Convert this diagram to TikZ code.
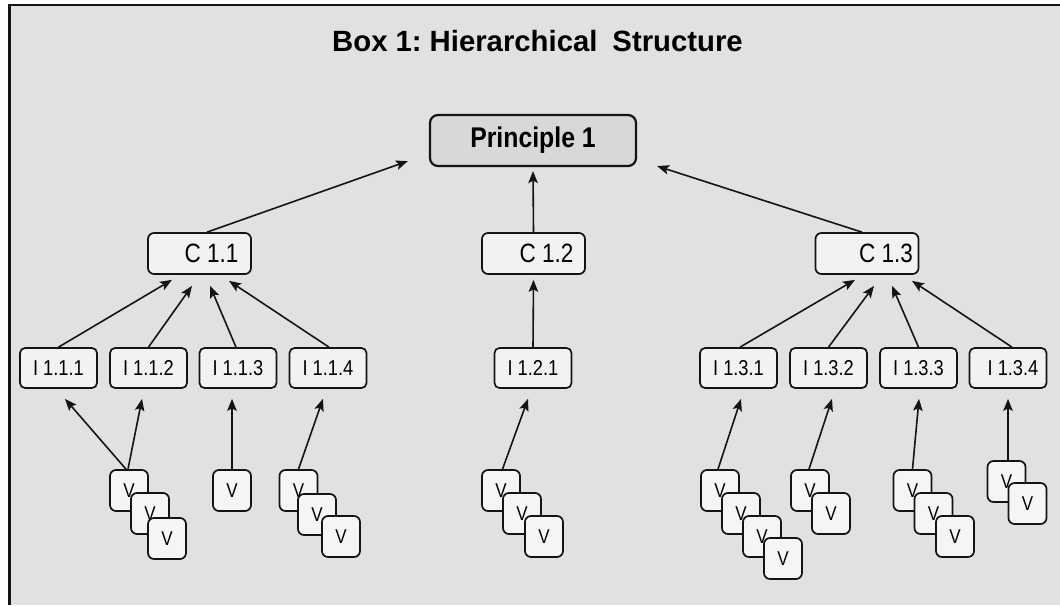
\documentclass[tikz,border=0pt]{standalone}
\usepackage{fontspec}
\setmainfont{Liberation Sans}
\newfontfamily\condfont[FakeStretch=0.85]{Liberation Sans}
\newfontfamily\pfont[FakeStretch=0.87]{Liberation Sans Bold}
\usetikzlibrary{arrows.meta}
\definecolor{panelgray}{RGB}{225,225,225}
\definecolor{boxfill}{RGB}{242,242,242}
\definecolor{vfill}{RGB}{245,245,245}
\definecolor{topfill}{RGB}{216,216,216}
\definecolor{ink}{RGB}{20,20,20}
\tikzset{
  basebox/.style={draw=ink, line width=1.7pt, inner sep=0pt, anchor=center},
  topbox/.style={basebox, fill=topfill, rounded corners=8pt, line width=2.2pt,
    minimum width=206pt, minimum height=51pt,
    font=\pfont\fontsize{28.5}{30}\selectfont},
  cbox/.style={basebox, fill=boxfill, rounded corners=6pt,
    minimum width=103pt, minimum height=41pt,
    font=\condfont\fontsize{26.5}{28}\selectfont},
  ibox/.style={basebox, fill=boxfill, rounded corners=5pt,
    minimum width=77pt, minimum height=40pt,
    font=\condfont\fontsize{21.5}{23}\selectfont},
  vbox/.style={basebox, fill=vfill, rounded corners=6pt,
    minimum width=38pt, minimum height=41pt,
    font=\condfont\fontsize{20}{22}\selectfont},
  arr/.style={draw=ink, line width=1.6pt, -{Stealth[length=12pt,width=9.5pt,inset=2.5pt]}}
}
\begin{document}
\begin{tikzpicture}[x=1pt,y=-1pt]
\useasboundingbox (0,0) rectangle (1060,605);
% panel
\fill[white] (0,0) rectangle (1060,605);
\fill[panelgray] (8,4) rectangle (1060,605);
\draw[ink, line width=3pt] (9.5,4) -- (9.5,605);
\draw[ink, line width=1.6pt] (8,5) -- (1060,5);

% title
\node[anchor=base, font=\bfseries\fontsize{29.3}{31}\selectfont] (title) at (537.5,51)
  {Box 1:\hspace{8pt}Hierarchical\hspace{15pt}Structure};

% principle
\node[topbox] (p) at (533,140.5) {Principle 1};

% criteria
\node[cbox] (c11) at (199.5,253.5) {\hspace{24pt}C 1.1};
\node[cbox] (c12) at (533.5,253.5) {\hspace{26pt}C 1.2};
\node[cbox] (c13) at (867,253.5) {\hspace{38pt}C 1.3};

% indicators
\node[ibox] (i111) at (58.5,368) {I 1.1.1};
\node[ibox] (i112) at (148.5,368) {I 1.1.2};
\node[ibox] (i113) at (238,368) {I 1.1.3};
\node[ibox] (i114) at (328,368) {I 1.1.4};
\node[ibox] (i121) at (533,368) {I 1.2.1};
\node[ibox] (i131) at (738.5,368) {I 1.3.1};
\node[ibox] (i132) at (828.5,368) {I 1.3.2};
\node[ibox] (i133) at (918.5,368) {I 1.3.3};
\node[ibox] (i134) at (1008,368) {\hspace{10pt}I 1.3.4};

% verifiers (stacked cards)
\node[vbox] (va1) at (129,490.5) {V};
\node[vbox] (va2) at (150,513.5) {V};
\node[vbox] (va3) at (167,538.5) {V};
\node[vbox] (vb1) at (232,490.5) {V};
\node[vbox] (vc1) at (298.5,490.5) {V};
\node[vbox] (vc2) at (317,514.5) {V};
\node[vbox] (vc3) at (341,536.5) {V};
\node[vbox] (vd1) at (501,490.5) {V};
\node[vbox] (vd2) at (522,513.5) {V};
\node[vbox] (vd3) at (544,536.5) {V};
\node[vbox] (ve1) at (720,490.5) {V};
\node[vbox] (ve2) at (741,513.5) {V};
\node[vbox] (ve3) at (762,536.5) {V};
\node[vbox] (ve4) at (783,558.5) {V};
\node[vbox] (vf1) at (810,490.5) {V};
\node[vbox] (vf2) at (831,513.5) {V};
\node[vbox] (vg1) at (912.5,490.5) {V};
\node[vbox] (vg2) at (933.5,513.5) {V};
\node[vbox] (vg3) at (955,536.5) {V};
\node[vbox] (vh1) at (1006.5,481.5) {V};
\node[vbox] (vh2) at (1027.5,503.5) {V};

% criteria to principle
\draw[arr] ([xshift=7.5pt]c11.north) -- ([xshift=-21pt,yshift=6pt]p.south west);
\draw[arr] (c12.north) -- ([yshift=-4pt]p.south);
\draw[arr] ([xshift=-5pt]c13.north) -- ([xshift=20pt,yshift=1pt]p.south east);

% indicators to criteria
\draw[arr] (i111.north) -- ([xshift=-27.5pt,yshift=-5pt]c11.south);
\draw[arr] (i112.north) -- ([xshift=-7.5pt,yshift=-11pt]c11.south);
\draw[arr] ([xshift=-2pt]i113.north) -- ([xshift=10.5pt,yshift=-11pt]c11.south);
\draw[arr] ([xshift=1pt]i114.north) -- ([xshift=29.5pt,yshift=-6pt]c11.south);
\draw[arr] (i121.north) -- ([yshift=-5pt]c12.south);
\draw[arr] ([xshift=1.5pt]i131.north) -- ([xshift=-12pt,yshift=-5pt]c13.south);
\draw[arr] (i132.north) -- ([xshift=7pt,yshift=-11pt]c13.south);
\draw[arr] (i133.north) -- ([xshift=25pt,yshift=-11pt]c13.south);
\draw[arr] ([xshift=4pt]i134.north) -- ([xshift=45pt,yshift=-6pt]c13.south);

% verifiers to indicators
\draw[arr] ([xshift=-3pt]va1.north) -- ([xshift=6.5pt,yshift=-10pt]i111.south);
\draw[arr] ([xshift=-1pt]va1.north) -- ([xshift=-6.5pt,yshift=-10pt]i112.south);
\draw[arr] (vb1.north) -- ([xshift=-6pt,yshift=-10pt]i113.south);
\draw[arr] (vc1.north) -- ([xshift=-5pt,yshift=-10pt]i114.south);
\draw[arr] ([xshift=1.5pt]vd1.north) -- ([xshift=-5pt,yshift=-10pt]i121.south);
\draw[arr] ([xshift=-2pt]ve1.north) -- ([xshift=2.5pt,yshift=-10pt]i131.south);
\draw[arr] ([xshift=-1pt]vf1.north) -- ([xshift=3.5pt,yshift=-10pt]i132.south);
\draw[arr] (vg1.north) -- ([xshift=0.5pt,yshift=-10pt]i133.south);
\draw[arr] ([xshift=1.5pt]vh1.north) -- ([yshift=-10pt]i134.south);
\end{tikzpicture}
\end{document}
